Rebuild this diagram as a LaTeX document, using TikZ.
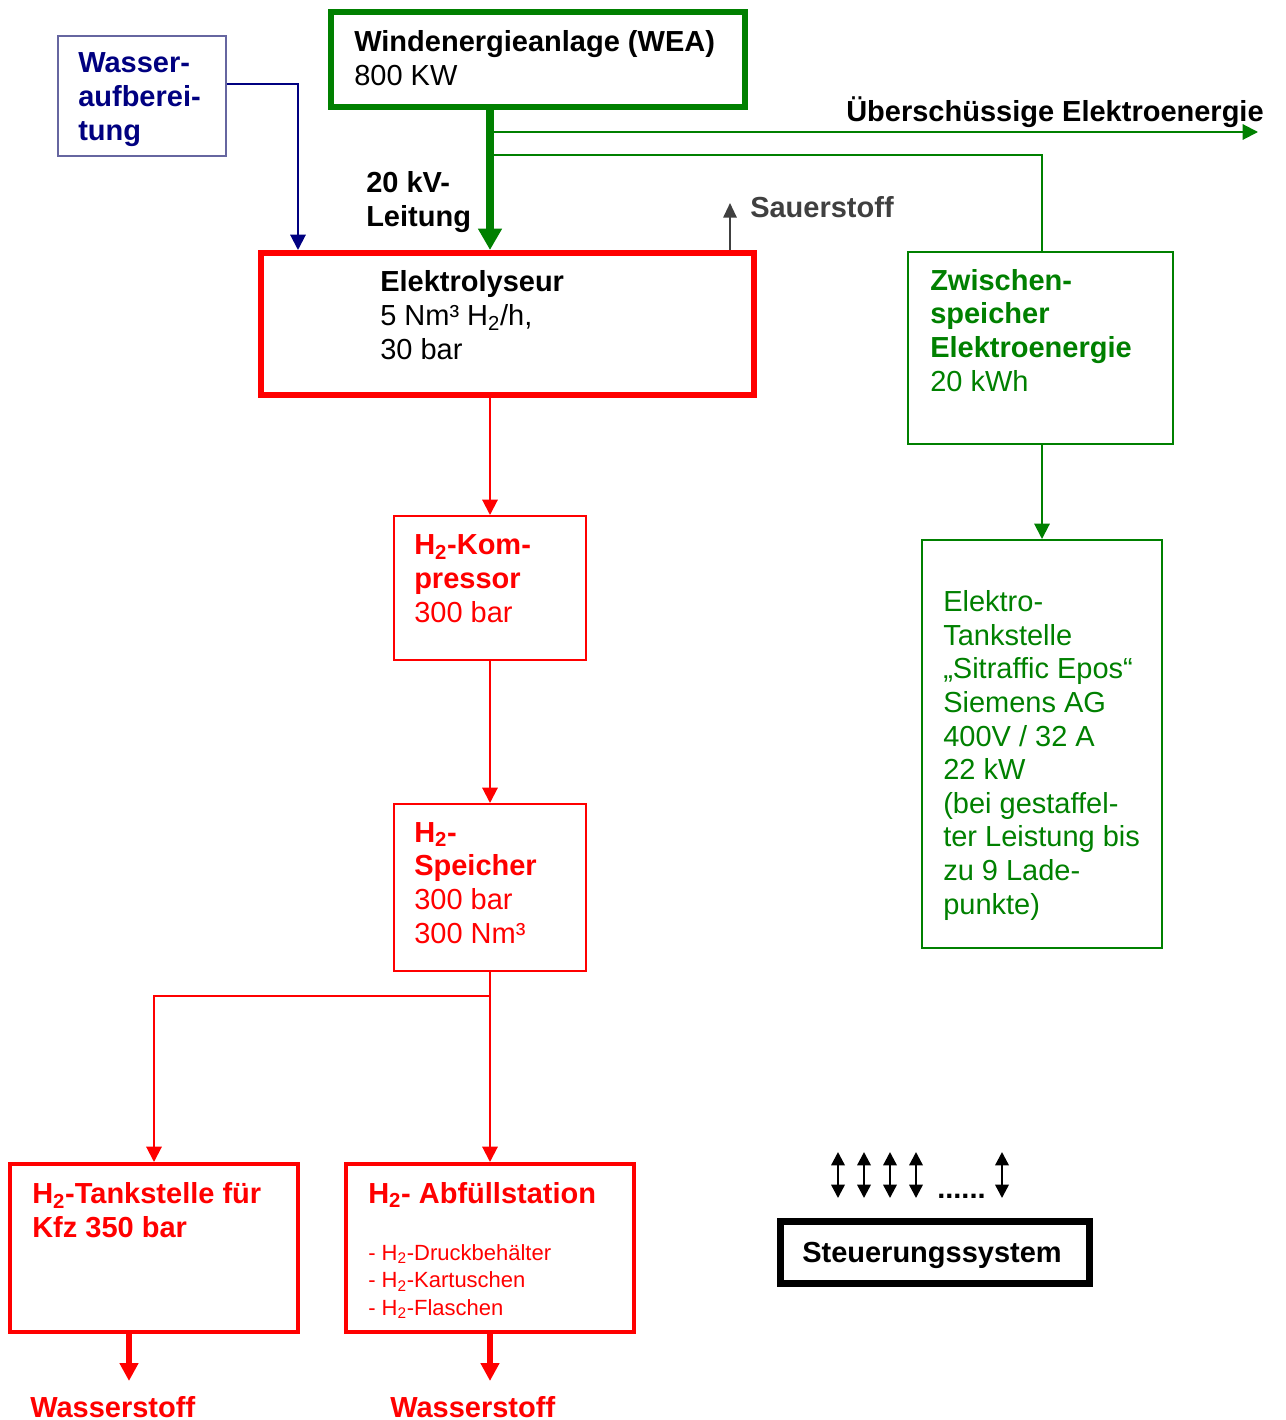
\documentclass[tikz,border=0pt]{standalone}
\usepackage{fontspec}
\setmainfont{Liberation Sans}
\usetikzlibrary{arrows.meta,fit,calc}
\definecolor{cred}{HTML}{FF0000}
\definecolor{cgreen}{HTML}{008000}
\definecolor{cnavy}{HTML}{000080}
\definecolor{cslate}{HTML}{6666A0}
\definecolor{cgray}{HTML}{404040}
\newcommand\fbig{\fontsize{21.75}{25.2}\selectfont}
\newcommand\fsmall{\fontsize{16.5}{20.6}\selectfont}
\newcommand\sub[1]{\textsubscript{#1}}
\begin{document}
\begin{tikzpicture}[x=0.75pt,y=-0.75pt,
  box/.style={draw, inner sep=0pt, fit={#1}},
  txt/.style={anchor=base west, inner sep=0pt, align=left, font=\fbig},
  thinarrow/.style={line width=1.5pt, -{Triangle[length=11.5pt,width=11.5pt]}},
  thickred/.style={line width=5pt, draw=cred, -{Triangle[length=13.5pt,width=13.5pt]}},
  dbl/.style={line width=1.8pt, {Triangle[length=10pt,width=10pt]}-{Triangle[length=10pt,width=10pt]}}
]
\useasboundingbox (0,0) rectangle (1285,1420);

% boxes
\node[box={(58,36) (226,156)}, draw=cslate, line width=1.5pt] (wasser) {};
\node[box={(331,12) (745,107)}, draw=cgreen, line width=4.5pt] (wea) {};
\node[box={(261,253) (754,395)}, draw=cred, line width=4.5pt] (elek) {};
\node[box={(394,516) (586,660)}, draw=cred, line width=1.5pt] (komp) {};
\node[box={(394,804) (586,971)}, draw=cred, line width=1.5pt] (speich) {};
\node[box={(10,1164) (298,1332)}, draw=cred, line width=3pt] (tank) {};
\node[box={(346,1164) (634,1332)}, draw=cred, line width=3pt] (abf) {};
\node[box={(908,252) (1173,444)}, draw=cgreen, line width=1.5pt] (zwisch) {};
\node[box={(922,540) (1162,948)}, draw=cgreen, line width=1.5pt] (etank) {};
\node[box={(780,1221) (1089,1283)}, draw=black, line width=5.25pt] (steu) {};

% texts (anchor at baseline of the last line)
\node[txt, text=cnavy, font=\fbig\bfseries] (t1) at (78,140) {Wasser-\\aufberei-\\tung};
\node[txt] (t2) at (354,85) {\bfseries Windenergieanlage (WEA)\\800 KW};
\node[txt, font=\fbig\bfseries] (t3) at (366,226) {20 kV-\\Leitung};
\node[txt, text=cgray, font=\fbig\bfseries] (t4) at (750,217) {Sauerstoff};
\node[txt, font=\fbig\bfseries] (t5) at (846,121) {Überschüssige Elektroenergie};
\node[txt] (t6) at (380,359) {\bfseries Elektrolyseur\\5 Nm³ H\sub{2}/h,\\30 bar};
\node[txt, text=cred] (t7) at (414,622) {\bfseries H\sub{2}-Kom-\\\bfseries pressor\\300 bar};
\node[txt, text=cred] (t8) at (414,943) {\bfseries H\sub{2}-\\\bfseries Speicher\\300 bar\\300 Nm³};
\node[txt, text=cred, font=\fbig\bfseries] (t9) at (32,1237) {H\sub{2}-Tankstelle für\\Kfz 350 bar};
\node[txt, text=cred, font=\fbig\bfseries] (t10) at (368,1203) {H\sub{2}- Abfüllstation};
\node[txt, text=cred, font=\fsmall] (t11) at (368,1315) {- H\sub{2}-Druckbehälter\\- H\sub{2}-Kartuschen\\- H\sub{2}-Flaschen};
\node[txt, text=cred, font=\fbig\bfseries] (t12) at (30,1417) {Wasserstoff};
\node[txt, text=cred, font=\fbig\bfseries] (t13) at (390,1417) {Wasserstoff};
\node[txt, text=cgreen] (t14) at (930,391) {\bfseries Zwischen-\\\bfseries speicher\\\bfseries Elektroenergie\\20 kWh};
\node[txt, text=cgreen] (t15) at (943,914) {Elektro-\\Tankstelle\\„Sitraffic Epos“\\Siemens AG\\400V / 32 A\\22 kW\\(bei gestaffel-\\ter Leistung bis\\zu 9 Lade-\\punkte)};
\node[anchor=base, inner sep=0pt, font=\fbig\bfseries] (t16) at (932,1262) {Steuerungssystem};
\node[txt, font=\fbig\bfseries] (t17) at (937,1198) {......};

% connectors
\coordinate (ue) at (1258,132);
\coordinate (sau) at (730,203);
\draw[thinarrow, draw=cnavy] (wasser.east |- 0,84) -| (elek.north -| 298,0);
\draw[line width=6pt, draw=cgreen, -{Triangle[length=16pt,width=17pt]}] (wea.south -| 490,0) -- (elek.north -| 490,0);
\draw[thinarrow, draw=cgreen] (493,132) -- (ue);
\draw[line width=1.5pt, draw=cgreen] (493,155) -| (zwisch.north -| 1042,0);
\draw[thinarrow, draw=cgray, -{Triangle[length=11pt,width=10pt]}] (elek.north -| sau) -- (sau);
\draw[thinarrow, draw=cred] (elek.south -| 490,0) -- (komp.north -| 490,0);
\draw[thinarrow, draw=cred] (komp.south -| 490,0) -- (speich.north -| 490,0);
\draw[thinarrow, draw=cred] (speich.south -| 490,0) -- (abf.north -| 490,0);
\draw[thinarrow, draw=cred] (490,996) -| (tank.north -| 154,0);
\draw[thinarrow, draw=cgreen] (zwisch.south -| 1042,0) -- (etank.north -| 1042,0);
\coordinate (w1) at (129,1381);
\coordinate (w2) at (490,1381);
\draw[thickred] (tank.south -| w1) -- (w1);
\draw[thickred] (abf.south -| w2) -- (w2);

\foreach \x/\n in {838/a,864/b,890/c,916/d,1002/e}{
  \coordinate (top\n) at (\x,1152);
  \coordinate (bot\n) at (\x,1198);
  \draw[dbl] (top\n) -- (bot\n);
}
\end{tikzpicture}
\end{document}
